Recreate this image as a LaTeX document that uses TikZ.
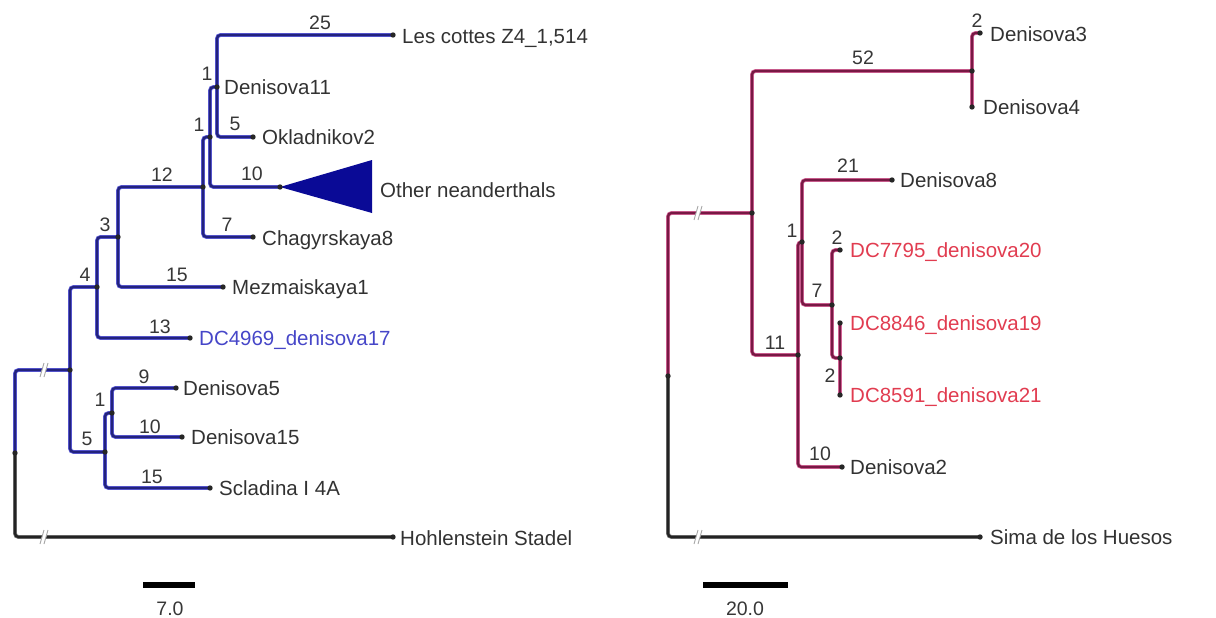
\documentclass[tikz,border=0pt]{standalone}
\usepackage{fontspec}
\setmainfont{Liberation Sans}
\definecolor{bcore}{RGB}{35,35,125}
\definecolor{bhalo}{RGB}{90,90,215}
\definecolor{mcore}{RGB}{120,25,68}
\definecolor{mhalo}{RGB}{210,100,150}
\definecolor{kcore}{RGB}{35,35,35}
\definecolor{khalo}{RGB}{110,110,110}
\definecolor{txt}{RGB}{50,50,50}
\definecolor{numc}{RGB}{55,55,55}
\definecolor{bluetxt}{RGB}{70,70,200}
\definecolor{redtxt}{RGB}{225,60,80}
\definecolor{trifill}{RGB}{10,10,150}
\begin{document}
\begin{tikzpicture}[x=1pt,y=-1pt,
  br/.style={draw=#1core, line width=2.3pt, rounded corners=3.5pt,
    preaction={draw=#1halo, line width=3.8pt}},
  tiplab/.style={anchor=west, inner sep=0pt, text height=14.6pt, text depth=0pt,
    font=\fontsize{20.5}{22}\selectfont, text=txt},
  num/.style={inner sep=0pt, text height=14.4pt, text depth=0pt,
    font=\fontsize{19.5}{21}\selectfont, text=numc},
  dotc/.style={fill=black!85},
  brk/.pic={
    \fill[white] (-3,7) -- (1,-7) -- (5,-7) -- (1,7) -- cycle;
    \draw[gray!70, line width=0.9pt] (-3,7) -- (1,-7) (1,7) -- (5,-7);
  }]
\useasboundingbox (0,0) rectangle (1216,618);

% ---------------- left tree ----------------
\coordinate (R) at (15,453);
\coordinate (U) at (70,370);
\coordinate (V) at (97,287);
\coordinate (W) at (118,237);
\coordinate (Z) at (203,187);
\coordinate (Y) at (210,137);
\coordinate (X) at (217,87);
\coordinate (T) at (105,452);
\coordinate (S) at (112,413);
\coordinate (lc) at (393,35);
\coordinate (ok) at (253,137);
\coordinate (tri) at (280,187);
\coordinate (ch) at (253,237);
\coordinate (mz) at (223,287);
\coordinate (dc17) at (190,338);
\coordinate (d5) at (176,388);
\coordinate (d15) at (182,437);
\coordinate (sc) at (210,488);
\coordinate (ho) at (393,537);

\draw[br=k] (R) |- (ho);
\draw[br=b] (R) |- (U);
\draw[br=b] (U) |- (V);
\draw[br=b] (U) |- (T);
\draw[br=b] (V) |- (W);
\draw[br=b] (V) |- (dc17);
\draw[br=b] (W) |- (Z);
\draw[br=b] (W) |- (mz);
\draw[br=b] (Z) |- (Y);
\draw[br=b] (Z) |- (ch);
\draw[br=b] (Y) |- (X);
\draw[br=b] (Y) |- (tri);
\draw[br=b] (X) |- (lc);
\draw[br=b] (X) |- (ok);
\draw[br=b] (T) |- (S);
\draw[br=b] (T) |- (sc);
\draw[br=b] (S) |- (d5);
\draw[br=b] (S) |- (d15);

\fill[trifill] (tri) -- (372,160) -- (372,213) -- cycle;

\pic at (43,370) {brk};
\pic at (43,537) {brk};

\foreach \p in {R,U,V,W,Z,Y,X,T,S,lc,ok,tri,ch,mz,dc17,d5,d15,sc,ho}
  \fill[dotc] (\p) circle (2.7pt);

\node[tiplab] (Llc) at (402,36) {Les cottes Z4\_1,514};
\node[tiplab] (Ld11) at (224,87) {Denisova11};
\node[tiplab] (Lok) at (262,137) {Okladnikov2};
\node[tiplab] (Lon) at (380,190) {Other neanderthals};
\node[tiplab] (Lch) at (262,238) {Chagyrskaya8};
\node[tiplab] (Lmz) at (232,287) {Mezmaiskaya1};
\node[tiplab, text=bluetxt] (Ldc17) at (199,338) {DC4969\_denisova17};
\node[tiplab] (Ld5) at (183,388) {Denisova5};
\node[tiplab] (Ld15) at (191,437) {Denisova15};
\node[tiplab] (Lsc) at (219,488) {Scladina I 4A};
\node[tiplab] (Lho) at (400,538) {Hohlenstein Stadel};

\node[num] (n25) at (320,22) {25};
\node[num] (n1a) at (207,73) {1};
\node[num] (n1b) at (199,124) {1};
\node[num] (n5a) at (235,123) {5};
\node[num] (n12) at (162,174) {12};
\node[num] (n10a) at (252,173) {10};
\node[num] (n7a) at (227,224) {7};
\node[num] (n3) at (105,224) {3};
\node[num] (n15a) at (177,274) {15};
\node[num] (n4) at (85,274) {4};
\node[num] (n13) at (160,326) {13};
\node[num] (n9) at (144,376) {9};
\node[num] (n1c) at (100,399) {1};
\node[num] (n10b) at (150,426) {10};
\node[num] (n5b) at (87,438) {5};
\node[num] (n15b) at (152,476) {15};

\coordinate (sbL1) at (143,585);
\coordinate (sbL2) at (195,585);
\draw[line width=6pt, black] (sbL1) -- (sbL2);
\node[num] (sbLt) at (170,608) {7.0};

% ---------------- right tree ----------------
\coordinate (Rr) at (668,376);
\coordinate (N1) at (752,213);
\coordinate (D34) at (972,71);
\coordinate (N2) at (798,355);
\coordinate (N3) at (802,242);
\coordinate (N4) at (832,305);
\coordinate (N5) at (840,358);
\coordinate (d3) at (980,33);
\coordinate (d4) at (972,107);
\coordinate (d8) at (892,180);
\coordinate (dc20) at (840,250);
\coordinate (dc19) at (840,323);
\coordinate (dc21) at (840,395);
\coordinate (d2) at (842,467);
\coordinate (sima) at (980,537);

\draw[br=k] (Rr) |- (sima);
\draw[br=m] (Rr) |- (N1);
\draw[br=m] (N1) |- (D34);
\draw[br=m] (N1) |- (N2);
\draw[br=m] (D34) |- (d3);
\draw[br=m] (D34) -- (d4);
\draw[br=m] (N2) |- (N3);
\draw[br=m] (N2) |- (d2);
\draw[br=m] (N3) |- (d8);
\draw[br=m] (N3) |- (N4);
\draw[br=m] (N4) |- (dc20);
\draw[br=m] (N4) |- (N5);
\draw[br=m] (N5) -- (dc19);
\draw[br=m] (N5) -- (dc21);

\pic at (697,213) {brk};
\pic at (697,537) {brk};

\foreach \p in {Rr,N1,D34,N2,N3,N4,N5,d3,d4,d8,dc20,dc19,dc21,d2,sima}
  \fill[dotc] (\p) circle (2.7pt);

\node[tiplab] (Ld3) at (990,34) {Denisova3};
\node[tiplab] (Ld4) at (983,107) {Denisova4};
\node[tiplab] (Ld8) at (900,180) {Denisova8};
\node[tiplab, text=redtxt] (Ldc20) at (850,250) {DC7795\_denisova20};
\node[tiplab, text=redtxt] (Ldc19) at (850,323) {DC8846\_denisova19};
\node[tiplab, text=redtxt] (Ldc21) at (850,395) {DC8591\_denisova21};
\node[tiplab] (Ld2) at (850,467) {Denisova2};
\node[tiplab] (Lsima) at (990,537) {Sima de los Huesos};

\node[num] (m2a) at (977,20) {2};
\node[num] (m52) at (863,57) {52};
\node[num] (m21) at (848,165) {21};
\node[num] (m1) at (792,230) {1};
\node[num] (m2b) at (837,237) {2};
\node[num] (m7) at (817,290) {7};
\node[num] (m11) at (775,342) {11};
\node[num] (m2c) at (830,375) {2};
\node[num] (m10) at (820,453) {10};

\coordinate (sbR1) at (703,585);
\coordinate (sbR2) at (788,585);
\draw[line width=6pt, black] (sbR1) -- (sbR2);
\node[num] (sbRt) at (745,608) {20.0};
\end{tikzpicture}
\end{document}
